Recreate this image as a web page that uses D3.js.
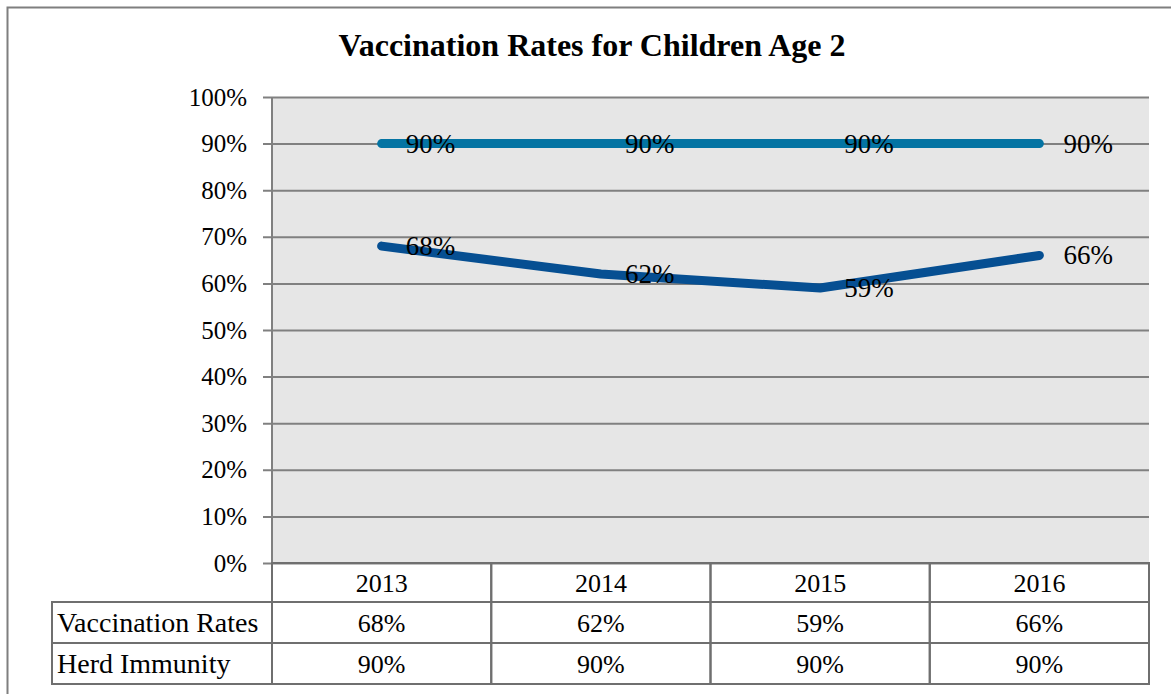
<!DOCTYPE html>
<html>
<head>
<meta charset="utf-8">
<script src="https://cdn.jsdelivr.net/npm/d3@7"></script>
<style>
  body { margin: 0; background: #fff; }
  svg { display: block; font-family: "Liberation Serif", "DejaVu Serif", serif; }
</style>
</head>
<body>
<div id="chart"></div>
<script>
// chart data
const years = ['2013', '2014', '2015', '2016'];
const vaccinationRates = [0.68, 0.62, 0.59, 0.66];
const herdImmunity = [0.90, 0.90, 0.90, 0.90];
const seriesNames = ['Vaccination Rates', 'Herd Immunity'];
const yTicks = [0, 0.1, 0.2, 0.3, 0.4, 0.5, 0.6, 0.7, 0.8, 0.9, 1.0];

const width = 1171, height = 694;
const plot = { left: 272, right: 1149, top: 97, bottom: 563 };
const rowH = 41;
const tableLeft = 52;
const gridColor = '#808080';
const fmt = d3.format('.0%');

const svg = d3.select('#chart').append('svg')
  .attr('width', width)
  .attr('height', height);

// outer frame (runs past the right and bottom edges)
svg.append('rect')
  .attr('x', 7.5).attr('y', 7.5)
  .attr('width', width + 20).attr('height', height + 20)
  .attr('fill', '#fff')
  .attr('stroke', '#7f7f7f')
  .attr('stroke-width', 2);

svg.append('text')
  .attr('x', 592).attr('y', 56)
  .attr('text-anchor', 'middle')
  .style('font-size', '32px')
  .style('font-weight', 'bold')
  .text('Vaccination Rates for Children Age 2');

const x = d3.scaleBand().domain(years).range([plot.left, plot.right]).padding(0);
const y = d3.scaleLinear().domain([0, 1]).range([plot.bottom, plot.top]);
const cx = d => x(d) + x.bandwidth() / 2;

// plot area background
svg.append('rect')
  .attr('x', plot.left).attr('y', plot.top)
  .attr('width', plot.right - plot.left).attr('height', plot.bottom - plot.top)
  .attr('fill', '#e6e6e6');

// gridlines + ticks
const yAxis = svg.append('g')
  .attr('transform', `translate(${plot.left},0)`)
  .call(d3.axisLeft(y).tickValues(yTicks).tickFormat(fmt)
    .tickSize(-(plot.right - plot.left)).tickPadding(25));
yAxis.select('.domain').remove();
yAxis.selectAll('.tick line')
  .attr('x1', -9)
  .attr('stroke', gridColor)
  .attr('stroke-width', 2);
yAxis.selectAll('.tick text')
  .attr('fill', '#000')
  .style('font-size', '25px')
  .style('font-family', '"Liberation Serif", serif');

// vertical axis line
svg.append('line')
  .attr('x1', plot.left).attr('x2', plot.left)
  .attr('y1', plot.top).attr('y2', plot.bottom)
  .attr('stroke', gridColor).attr('stroke-width', 2);

// series lines
const series = [
  { name: seriesNames[1], values: herdImmunity, color: '#0474a3' },
  { name: seriesNames[0], values: vaccinationRates, color: '#064f92' }
];
const line = d3.line()
  .x((d, i) => cx(years[i]))
  .y(d => y(d));

series.forEach(s => {
  svg.append('path')
    .datum(s.values)
    .attr('d', line)
    .attr('fill', 'none')
    .attr('stroke', s.color)
    .attr('stroke-width', 9)
    .attr('stroke-linecap', 'round')
    .attr('stroke-linejoin', 'round');
});

// data labels
series.forEach(s => {
  svg.append('g').selectAll('text')
    .data(s.values)
    .join('text')
    .attr('x', (d, i) => cx(years[i]) + 24)
    .attr('y', d => y(d) + 9)
    .style('font-size', '27px')
    .text(d => fmt(d));
});

// data table
const table = svg.append('g');
const tableRows = [
  { name: seriesNames[0], values: vaccinationRates },
  { name: seriesNames[1], values: herdImmunity }
];
const cellStroke = '#6f6f6f';

// header row (years)
years.forEach(yr => {
  table.append('rect')
    .attr('x', x(yr)).attr('y', plot.bottom)
    .attr('width', x.bandwidth()).attr('height', rowH - 2)
    .attr('fill', 'none')
    .attr('stroke', cellStroke).attr('stroke-width', 2);
  table.append('text')
    .attr('x', cx(yr)).attr('y', plot.bottom + 29)
    .attr('text-anchor', 'middle')
    .style('font-size', '26px')
    .text(yr);
});

tableRows.forEach((r, ri) => {
  const top = plot.bottom + rowH - 2 + ri * rowH;
  table.append('rect')
    .attr('x', tableLeft).attr('y', top)
    .attr('width', plot.left - tableLeft).attr('height', rowH)
    .attr('fill', 'none')
    .attr('stroke', cellStroke).attr('stroke-width', 2);
  table.append('text')
    .attr('x', tableLeft + 5).attr('y', top + 30)
    .style('font-size', '28px')
    .text(r.name);
  r.values.forEach((v, i) => {
    table.append('rect')
      .attr('x', x(years[i])).attr('y', top)
      .attr('width', x.bandwidth()).attr('height', rowH)
      .attr('fill', 'none')
      .attr('stroke', cellStroke).attr('stroke-width', 2);
    table.append('text')
      .attr('x', cx(years[i])).attr('y', top + 30)
      .attr('text-anchor', 'middle')
      .style('font-size', '26px')
      .text(fmt(v));
  });
});
</script>
</body>
</html>
